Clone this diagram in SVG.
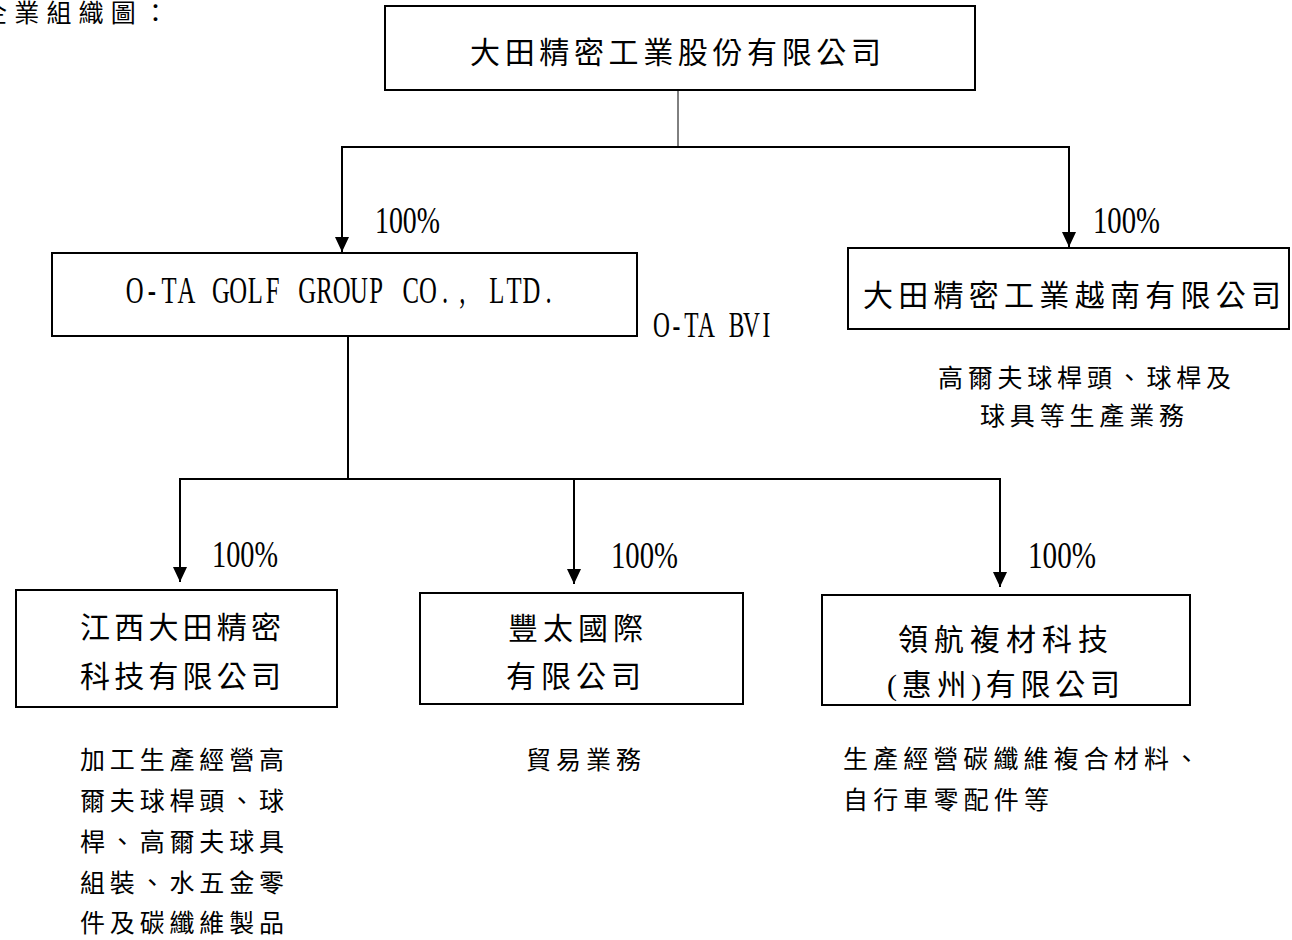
<svg xmlns="http://www.w3.org/2000/svg" width="1292" height="940" viewBox="0 0 1292 940">
<style>
.box{fill:#fff;stroke:#000;stroke-width:2}
.cjk{font-family:"Noto Sans CJK TC","Noto Sans CJK SC",sans-serif;fill:#000}
.lat{font-family:"Liberation Serif","Noto Sans CJK TC",serif;fill:#000}
.ln{fill:none;stroke:#000;stroke-width:2}
.b{font-size:30px}
.d{font-size:25px}
</style>
<defs>
<marker id="ah" markerUnits="userSpaceOnUse" viewBox="0 0 15 14" refX="15" refY="7" markerWidth="15" markerHeight="14" orient="auto">
<path d="M0,0 L15,7 L0,14 z" fill="#000"/>
</marker>
</defs>
<rect width="1292" height="940" fill="#fff"/>
<text class="cjk" x="-18" y="22" font-size="25" textLength="186" lengthAdjust="spacing">企業組織圖：</text>

<g id="connectors">
<line x1="678" y1="90" x2="678" y2="147" stroke="#000" stroke-width="1"/>
<line class="ln" x1="341" y1="147" x2="1070" y2="147"/>
<line class="ln" x1="342" y1="147" x2="342" y2="252" marker-end="url(#ah)"/>
<line class="ln" x1="1069" y1="147" x2="1069" y2="247" marker-end="url(#ah)"/>
<line class="ln" x1="348" y1="336" x2="348" y2="479"/>
<line class="ln" x1="179" y1="479" x2="1001" y2="479"/>
<line class="ln" x1="180" y1="479" x2="180" y2="582" marker-end="url(#ah)"/>
<line class="ln" x1="574" y1="479" x2="574" y2="584" marker-end="url(#ah)"/>
<line class="ln" x1="1000" y1="479" x2="1000" y2="587" marker-end="url(#ah)"/>
<text class="lat" x="375" y="233" font-size="37" textLength="65" lengthAdjust="spacingAndGlyphs">100%</text>
<text class="lat" x="1093" y="233" font-size="37" textLength="67" lengthAdjust="spacingAndGlyphs">100%</text>
<text class="lat" x="212" y="567" font-size="37" textLength="66" lengthAdjust="spacingAndGlyphs">100%</text>
<text class="lat" x="611" y="568" font-size="37" textLength="67" lengthAdjust="spacingAndGlyphs">100%</text>
<text class="lat" x="1028" y="568" font-size="37" textLength="68" lengthAdjust="spacingAndGlyphs">100%</text>
</g>

<g id="parent">
<rect class="box" x="385" y="6" width="590" height="84"/>
<text class="cjk b" x="470" y="63" textLength="411" lengthAdjust="spacing">大田精密工業股份有限公司</text>
</g>

<g id="ota-bvi">
<rect class="box" x="52" y="253" width="585" height="83"/>
<text class="lat" transform="scale(0.65 1)" text-anchor="middle" y="303" font-size="38" x="207.12 233.65 260.19 286.73 313.27 339.81 366.35 392.88 419.42 445.96 472.5 499.04 525.58 552.12 578.65 605.19 631.73 658.27 684.81 711.35 737.88 764.42 790.96 817.5 844.04">O-TA GOLF GROUP CO., LTD.</text>
<text class="lat" transform="scale(0.65 1)" text-anchor="middle" y="337" font-size="36" x="1017.69 1040.77 1063.85 1086.92 1110 1133.08 1156.15 1179.23">O-TA BVI</text>
</g>

<g id="vietnam">
<rect class="box" x="848" y="248" width="441" height="81"/>
<text class="cjk b" x="863" y="306" textLength="418" lengthAdjust="spacing">大田精密工業越南有限公司</text>
<text class="cjk d" x="938" y="387" textLength="293" lengthAdjust="spacing">高爾夫球桿頭、球桿及</text>
<text class="cjk d" x="980" y="425" textLength="204" lengthAdjust="spacing">球具等生產業務</text>
</g>

<g id="jiangxi">
<rect class="box" x="16" y="590" width="321" height="117"/>
<text class="cjk b" x="80" y="638" textLength="201" lengthAdjust="spacing">江西大田精密</text>
<text class="cjk b" x="80" y="687" textLength="201" lengthAdjust="spacing">科技有限公司</text>
<text class="cjk d" x="80" y="769" textLength="204" lengthAdjust="spacing">加工生產經營高</text>
<text class="cjk d" x="80" y="810" textLength="204" lengthAdjust="spacing">爾夫球桿頭、球</text>
<text class="cjk d" x="80" y="851" textLength="204" lengthAdjust="spacing">桿、高爾夫球具</text>
<text class="cjk d" x="80" y="892" textLength="204" lengthAdjust="spacing">組裝、水五金零</text>
<text class="cjk d" x="80" y="932" textLength="204" lengthAdjust="spacing">件及碳纖維製品</text>
</g>

<g id="fengtai">
<rect class="box" x="420" y="593" width="323" height="111"/>
<text class="cjk b" x="508" y="639" textLength="135" lengthAdjust="spacing">豐太國際</text>
<text class="cjk b" x="506" y="687" textLength="135" lengthAdjust="spacing">有限公司</text>
<text class="cjk d" x="526" y="769" textLength="115" lengthAdjust="spacing">貿易業務</text>
</g>

<g id="linghang">
<rect class="box" x="822" y="595" width="368" height="110"/>
<text class="cjk b" x="898" y="650" textLength="210" lengthAdjust="spacing">領航複材科技</text>
<text class="lat" x="887" y="695" font-size="30" textLength="233" lengthAdjust="spacing">(惠州)有限公司</text>
<text class="cjk d" x="843" y="768" textLength="356" lengthAdjust="spacing">生產經營碳纖維複合材料、</text>
<text class="cjk d" x="843" y="809" textLength="206" lengthAdjust="spacing">自行車零配件等</text>
</g>
</svg>
